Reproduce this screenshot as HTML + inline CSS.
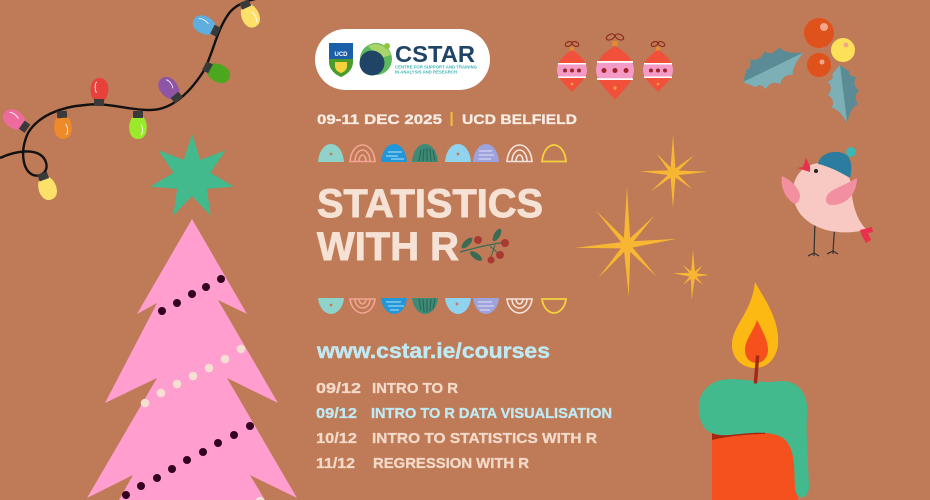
<!DOCTYPE html>
<html>
<head>
<meta charset="utf-8">
<style>
html,body{margin:0;padding:0;background:#BF7A57;}
svg{display:block;}
text{font-family:"Liberation Sans",sans-serif;font-weight:bold;}
</style>
</head>
<body>
<svg width="930" height="500" viewBox="0 0 930 500" xmlns="http://www.w3.org/2000/svg">
<defs>
  <clipPath id="oL"><path d="M572,50 C579,54 587,61 587,70 C587,79 578,85 572,92 C566,85 557,79 557,70 C557,61 565,54 572,50 Z"/></clipPath>
  <clipPath id="oM"><path d="M615,46 C624,51 634,59 634,70 C634,82 622,91 615,100 C608,91 596,82 596,70 C596,59 606,51 615,46 Z"/></clipPath>
  <clipPath id="oR"><path d="M658,50 C665,54 673,61 673,70 C673,79 664,85 658,92 C652,85 643,79 643,70 C643,61 651,54 658,50 Z"/></clipPath>
  <path id="dome" d="M0,18 C1,6 7,0 13,0 C19,0 25,6 26,18 Z"/>
  <path id="bowl" d="M0,0 H26 C25,10 19,16 13,16 C7,16 1,10 0,0 Z"/>
  <path id="leaf" d="M0,0 L9,-10 Q13,-7 16,-17 Q24,-10 32,-18 Q36,-10 47,-15 Q48,-7 66,0 Q50,7 47,15 Q38,10 32,18 Q26,10 17,16 Q15,8 9,10 Z"/>
  <path id="leafL" d="M0,0 L66,0 Q50,7 47,15 Q38,10 32,18 Q26,10 17,16 Q15,8 9,10 Z"/>
  <path id="bulb" d="M-5.5,3 C-11,10 -10,25 0,25 C10,25 11,10 5.5,3 Z"/>
</defs>
<rect width="930" height="500" fill="#BF7A57"/>

<!-- string lights -->
<path d="M0,158 C15,151 38,147 45,160 C50,170 42,178 33,175 C22,170 20,150 28,133 C38,116 60,107 85,105 C110,102 125,110 150,110 C172,110 190,92 203,72 C213,55 216,30 230,12 C237,4 248,0 260,-2" fill="none" stroke="#111" stroke-width="2.4"/>
<g transform="translate(25,127) rotate(125)"><use href="#bulb" fill="#EE6B9E"/><path d="M-3,10 C-5,14 -5,19 -3,21" stroke="#fff" stroke-width="0.8" fill="none"/><rect x="-5" y="-3" width="10" height="7" fill="#3a3a3a"/></g>
<g transform="translate(62,114) rotate(-4)"><use href="#bulb" fill="#EE8A2A"/><path d="M3,10 C5,14 5,19 3,21" stroke="#fff" stroke-width="0.8" fill="none"/><rect x="-5" y="-3" width="10" height="7" fill="#3a3a3a"/></g>
<g transform="translate(99,103) rotate(182)"><use href="#bulb" fill="#E8403A"/><path d="M3,10 C5,14 5,19 3,21" stroke="#fff" stroke-width="0.8" fill="none"/><rect x="-5" y="-3" width="10" height="7" fill="#3a3a3a"/></g>
<g transform="translate(138,114) rotate(0)"><use href="#bulb" fill="#9BE92B"/><path d="M3,10 C5,14 5,19 3,21" stroke="#fff" stroke-width="0.8" fill="none"/><rect x="-5" y="-3" width="10" height="7" fill="#3a3a3a"/></g>
<g transform="translate(177,98) rotate(141)"><use href="#bulb" fill="#8E55A6"/><path d="M-3,10 C-5,14 -5,19 -3,21" stroke="#fff" stroke-width="0.8" fill="none"/><rect x="-5" y="-3" width="10" height="7" fill="#3a3a3a"/></g>
<g transform="translate(207,67) rotate(-62)"><use href="#bulb" fill="#4BA71E"/><rect x="-5" y="-3" width="10" height="7" fill="#3a3a3a"/></g>
<g transform="translate(216,31) rotate(117)"><use href="#bulb" fill="#5EAEE0"/><path d="M-3,10 C-5,14 -5,19 -3,21" stroke="#fff" stroke-width="0.8" fill="none"/><rect x="-5" y="-3" width="10" height="7" fill="#3a3a3a"/></g>
<g transform="translate(245,4) rotate(-24)"><use href="#bulb" fill="#FCE06A"/><path d="M3,10 C5,14 5,19 3,21" stroke="#fff" stroke-width="0.8" fill="none"/><rect x="-5" y="-3" width="10" height="7" fill="#3a3a3a"/></g>
<g transform="translate(43,176) rotate(-20)"><use href="#bulb" fill="#FCE06A"/><rect x="-5" y="-3" width="10" height="7" fill="#3a3a3a"/></g>

<!-- tree -->
<polygon points="192,219 247,314 218,300 278,403 227,378 297,498 250,475 265,500 119,500 133,475 87,498 157,378 105,403 157,303 137,314" fill="#FF9ECF"/>
<g fill="#330022">
  <circle cx="162" cy="311" r="4"/><circle cx="177" cy="303" r="4"/><circle cx="192" cy="294" r="4"/><circle cx="206" cy="287" r="4"/><circle cx="221" cy="279" r="4"/>
  <circle cx="126" cy="495" r="4"/><circle cx="141" cy="486" r="4"/><circle cx="157" cy="478" r="4"/><circle cx="172" cy="469" r="4"/><circle cx="187" cy="460" r="4"/><circle cx="203" cy="452" r="4"/><circle cx="218" cy="443" r="4"/><circle cx="234" cy="435" r="4"/><circle cx="250" cy="426" r="4"/>
</g>
<g fill="#F4E0D2">
  <circle cx="145" cy="403" r="4.3"/><circle cx="161" cy="393" r="4.3"/><circle cx="177" cy="384" r="4.3"/><circle cx="193" cy="376" r="4.3"/><circle cx="209" cy="368" r="4.3"/><circle cx="225" cy="359" r="4.3"/><circle cx="241" cy="349" r="4.3"/>
  <circle cx="260" cy="501" r="4.3"/>
</g>
<polygon points="192,134 200.2,159.9 225.6,150.2 210.5,172.8 233.9,186.6 206.9,188.9 210.7,215.7 192,196 173.3,215.7 177.1,188.9 150.1,186.6 173.5,172.8 158.4,150.2 183.8,159.9" fill="#43BA8E"/>

<!-- logo pill -->
<rect x="315" y="29" width="175" height="61" rx="30.5" fill="#FFFFFF"/>
<path d="M329,43 H353 V62 C353,70 346,75 341,77 C336,75 329,70 329,62 Z" fill="#4C9A2A"/>
<rect x="329" y="43" width="24" height="16" fill="#1B5FA8"/>
<text x="341" y="56" font-size="6" fill="#fff" text-anchor="middle">UCD</text>
<path d="M335,62 H347 V66 C347,70 344,72 341,73 C338,72 335,70 335,66 Z" fill="#F4D23E"/>
<circle cx="376" cy="59" r="16" fill="#5DB85C"/>
<path d="M368,46 A16,16 0 0 1 391,55 L380,58 Z" fill="#A9D46A"/>
<circle cx="372" cy="63" r="12.5" fill="#1F4466"/>
<circle cx="387" cy="46" r="3" fill="#8CC63F"/>
<text x="395" y="62" font-size="23" fill="#1F4466" textLength="80" lengthAdjust="spacingAndGlyphs">CSTAR</text>
<text x="395" y="68.5" font-size="4.3" fill="#3FB4B8" textLength="82" lengthAdjust="spacingAndGlyphs">CENTRE FOR SUPPORT AND TRAINING</text>
<text x="395" y="73.5" font-size="4.3" fill="#3FB4B8" textLength="62" lengthAdjust="spacingAndGlyphs">IN ANALYSIS AND RESEARCH</text>

<!-- ornaments -->
<g fill="none" stroke="#8B2A1C" stroke-width="1.1">
  <ellipse cx="568.5" cy="44" rx="3.5" ry="2.2" transform="rotate(-25 568.5 44)"/><ellipse cx="575.5" cy="44" rx="3.5" ry="2.2" transform="rotate(25 575.5 44)"/>
  <ellipse cx="610.5" cy="37" rx="4.5" ry="2.6" transform="rotate(-25 610.5 37)"/><ellipse cx="619.5" cy="37" rx="4.5" ry="2.6" transform="rotate(25 619.5 37)"/>
  <ellipse cx="654.5" cy="44" rx="3.5" ry="2.2" transform="rotate(-25 654.5 44)"/><ellipse cx="661.5" cy="44" rx="3.5" ry="2.2" transform="rotate(25 661.5 44)"/>
</g>
<rect x="570" y="47" width="4" height="4" fill="#E8892B"/>
<rect x="612.5" y="41" width="5" height="5" fill="#E8892B"/>
<rect x="656" y="47" width="4" height="4" fill="#E8892B"/>
<g clip-path="url(#oL)"><rect x="550" y="45" width="45" height="50" fill="#F1513A"/><rect x="550" y="63" width="45" height="15" fill="#F39AC7"/></g>
<g clip-path="url(#oM)"><rect x="590" y="40" width="50" height="65" fill="#F1513A"/><rect x="590" y="61" width="50" height="19" fill="#F39AC7"/></g>
<g clip-path="url(#oR)"><rect x="636" y="45" width="45" height="50" fill="#F1513A"/><rect x="636" y="63" width="45" height="15" fill="#F39AC7"/></g>
<g fill="#fff">
  <rect x="558" y="63" width="28" height="1.5"/><rect x="558" y="76.5" width="28" height="1.5"/>
  <rect x="597" y="61" width="36" height="1.8"/><rect x="597" y="78.2" width="36" height="1.8"/>
  <rect x="644" y="63" width="28" height="1.5"/><rect x="644" y="76.5" width="28" height="1.5"/>
</g>
<g fill="#A3222A">
  <circle cx="565" cy="70.5" r="2"/><circle cx="572" cy="70.5" r="2"/><circle cx="579" cy="70.5" r="2"/>
  <circle cx="604" cy="70.5" r="2.5"/><circle cx="615" cy="70.5" r="2.5"/><circle cx="626" cy="70.5" r="2.5"/>
  <circle cx="651" cy="70.5" r="2"/><circle cx="658" cy="70.5" r="2"/><circle cx="665" cy="70.5" r="2"/>
</g>
<g fill="#F7A23A"><circle cx="572" cy="84" r="1.3"/><circle cx="615" cy="88" r="1.6"/><circle cx="658" cy="84" r="1.3"/></g>

<!-- date line -->
<text x="317" y="124" font-size="14" fill="#F8EDE5" stroke="#F8EDE5" stroke-width="0.3" textLength="125" lengthAdjust="spacingAndGlyphs">09-11 DEC 2025</text>
<rect x="450.5" y="112" width="2.2" height="14" fill="#F2B93B"/>
<text x="462" y="124" font-size="14" fill="#F8EDE5" stroke="#F8EDE5" stroke-width="0.3" textLength="115" lengthAdjust="spacingAndGlyphs">UCD BELFIELD</text>

<!-- domes row -->
<use href="#dome" x="318" y="144" fill="#8ED2C9"/><circle cx="331" cy="154" r="1.4" fill="#BF7A57"/>
<g transform="translate(349,144)" fill="none" stroke="#F3A493" stroke-width="1.6"><path d="M1,17.5 C2,6 8,1 13.5,1 C19,1 25,6 26,17.5 Z"/><path d="M6,17.5 C6,10 10,6 13.5,6 C17,6 21,10 21,17.5"/><path d="M10,17.5 C10,13 12,11 13.5,11 C15,11 17,13 17,17.5"/></g>
<use href="#dome" x="381" y="144" fill="#2196D9"/><g stroke="#9FD6F2" stroke-width="1.2"><line x1="388" y1="152" x2="402" y2="152"/><line x1="386" y1="156" x2="398" y2="156"/><line x1="391" y1="159" x2="404" y2="159"/></g>
<use href="#dome" x="412" y="144" fill="#3D8A77"/><g stroke="#2A6656" stroke-width="1.1"><line x1="419" y1="161" x2="421" y2="150"/><line x1="423" y1="161" x2="424" y2="149"/><line x1="427" y1="161" x2="427" y2="148"/><line x1="431" y1="161" x2="430" y2="149"/><line x1="435" y1="161" x2="433" y2="150"/></g>
<use href="#dome" x="445" y="144" fill="#8FD3EF"/><circle cx="458" cy="154" r="1.4" fill="#BF7A57"/>
<use href="#dome" x="473" y="144" fill="#9FA3DC"/><g stroke="#D6D8F4" stroke-width="1.2"><line x1="479" y1="151" x2="492" y2="151"/><line x1="479" y1="155" x2="494" y2="155"/><line x1="479" y1="159" x2="491" y2="159"/></g>
<g transform="translate(506,144)" fill="none" stroke="#F4E3DA" stroke-width="1.6"><path d="M1,17.5 C2,6 8,1 13.5,1 C19,1 25,6 26,17.5 Z"/><path d="M6,17.5 C6,10 10,6 13.5,6 C17,6 21,10 21,17.5"/><path d="M10,17.5 C10,13 12,11 13.5,11 C15,11 17,13 17,17.5"/></g>
<g transform="translate(541,144)" fill="none" stroke="#F2D23C" stroke-width="1.8"><path d="M1,17.5 C2,6 8,1 13,1 C18,1 24,6 25,17.5 Z"/></g>

<!-- title -->
<text x="317" y="217" font-size="40" fill="#F5E2D5" stroke="#F5E2D5" stroke-width="0.9" textLength="226" lengthAdjust="spacingAndGlyphs">STATISTICS</text>
<text x="317" y="260" font-size="40" fill="#F5E2D5" stroke="#F5E2D5" stroke-width="0.9" textLength="142" lengthAdjust="spacingAndGlyphs">WITH R</text>

<!-- berry sprig -->
<path d="M460,252 C475,248 490,244 507,242" fill="none" stroke="#3B6B55" stroke-width="1.3"/>
<path d="M490,246 L500,255 M495,245 L490,260" fill="none" stroke="#3B6B55" stroke-width="1"/>
<ellipse cx="467" cy="243" rx="7" ry="3" transform="rotate(-45 467 243)" fill="#3B6B55"/>
<ellipse cx="476" cy="256" rx="7" ry="3" transform="rotate(35 476 256)" fill="#3B6B55"/>
<ellipse cx="497" cy="235" rx="7" ry="3" transform="rotate(-60 497 235)" fill="#3B6B55"/>
<g fill="#A93A33"><circle cx="478" cy="240" r="4"/><circle cx="505" cy="243" r="4"/><circle cx="500" cy="255" r="4"/><circle cx="491" cy="260" r="3.5"/></g>

<!-- bowls row -->
<use href="#bowl" x="318" y="298" fill="#8ED2C9"/><circle cx="331" cy="305" r="1.4" fill="#BF7A57"/>
<g transform="translate(349,298)" fill="none" stroke="#F3A493" stroke-width="1.6"><path d="M1,1 H26 C25,10 19,15 13.5,15 C8,15 2,10 1,1 Z"/><path d="M6,1 C6,7 10,10 13.5,10 C17,10 21,7 21,1"/><path d="M10,1 C10,4 12,6 13.5,6 C15,6 17,4 17,1"/></g>
<use href="#bowl" x="381" y="298" fill="#2196D9"/><g stroke="#9FD6F2" stroke-width="1.2"><line x1="386" y1="302" x2="401" y2="302"/><line x1="388" y1="306" x2="404" y2="306"/><line x1="390" y1="310" x2="399" y2="310"/></g>
<use href="#bowl" x="412" y="298" fill="#3D8A77"/><g stroke="#2A6656" stroke-width="1.1"><line x1="419" y1="299" x2="421" y2="310"/><line x1="423" y1="299" x2="424" y2="312"/><line x1="427" y1="299" x2="427" y2="312"/><line x1="431" y1="299" x2="430" y2="311"/><line x1="435" y1="299" x2="433" y2="309"/></g>
<use href="#bowl" x="445" y="298" fill="#8FD3EF"/><circle cx="457" cy="304" r="1.4" fill="#BF7A57"/>
<use href="#bowl" x="473" y="298" fill="#9FA3DC"/><g stroke="#D6D8F4" stroke-width="1.2"><line x1="478" y1="302" x2="492" y2="302"/><line x1="478" y1="306" x2="494" y2="306"/><line x1="480" y1="310" x2="490" y2="310"/></g>
<g transform="translate(506,298)" fill="none" stroke="#F4E3DA" stroke-width="1.6"><path d="M1,1 H26 C25,10 19,15 13.5,15 C8,15 2,10 1,1 Z"/><path d="M6,1 C6,7 10,10 13.5,10 C17,10 21,7 21,1"/><path d="M10,1 C10,4 12,6 13.5,6 C15,6 17,4 17,1"/></g>
<g transform="translate(541,298)" fill="none" stroke="#F2D23C" stroke-width="1.8"><path d="M1,1 H25 C24,10 18,15 13,15 C8,15 2,10 1,1 Z"/></g>

<!-- url + courses -->
<text x="317" y="358" font-size="21" fill="#BFEAF3" stroke="#BFEAF3" stroke-width="0.4" textLength="233" lengthAdjust="spacingAndGlyphs">www.cstar.ie/courses</text>
<g font-size="14.5" stroke-width="0.3">
  <text x="316" y="393" fill="#F2D9C8" stroke="#F2D9C8" textLength="45" lengthAdjust="spacingAndGlyphs">09/12</text>
  <text x="372" y="393" fill="#F2D9C8" stroke="#F2D9C8" textLength="86" lengthAdjust="spacingAndGlyphs">INTRO TO R</text>
  <text x="316" y="418" fill="#BFEAF3" stroke="#BFEAF3" textLength="41" lengthAdjust="spacingAndGlyphs">09/12</text>
  <text x="371" y="418" fill="#BFEAF3" stroke="#BFEAF3" textLength="241" lengthAdjust="spacingAndGlyphs">INTRO TO R DATA VISUALISATION</text>
  <text x="316" y="443" fill="#F2D9C8" stroke="#F2D9C8" textLength="41" lengthAdjust="spacingAndGlyphs">10/12</text>
  <text x="372" y="443" fill="#F2D9C8" stroke="#F2D9C8" textLength="225" lengthAdjust="spacingAndGlyphs">INTRO TO STATISTICS WITH R</text>
  <text x="316" y="468" fill="#F2D9C8" stroke="#F2D9C8" textLength="39" lengthAdjust="spacingAndGlyphs">11/12</text>
  <text x="373" y="468" fill="#F2D9C8" stroke="#F2D9C8" textLength="156" lengthAdjust="spacingAndGlyphs">REGRESSION WITH R</text>
</g>

<!-- sparkles -->
<g fill="#F8B733">
  <g transform="translate(627,245)">
    <polygon points="-3.5,0 0,-58 3.5,0" /><polygon points="-3.5,0 0,-50 3.5,0" transform="rotate(83)"/><polygon points="-3.5,0 0,-52 3.5,0" transform="rotate(178)"/><polygon points="-3.5,0 0,-52 3.5,0" transform="rotate(267)"/>
    <polygon points="-2.8,0 0,-47 2.8,0" transform="rotate(318)"/><polygon points="-2.8,0 0,-41 2.8,0" transform="rotate(43)"/><polygon points="-2.8,0 0,-44 2.8,0" transform="rotate(137)"/><polygon points="-2.8,0 0,-44 2.8,0" transform="rotate(221)"/>
    <circle r="5"/>
  </g>
  <g transform="translate(673,173)">
    <polygon points="-2.8,0 0,-38 2.8,0"/><polygon points="-2.8,0 0,-35 2.8,0" transform="rotate(88)"/><polygon points="-2.8,0 0,-35 2.8,0" transform="rotate(180)"/><polygon points="-2.8,0 0,-33 2.8,0" transform="rotate(273)"/>
    <polygon points="-2.3,0 0,-26 2.3,0" transform="rotate(320)"/><polygon points="-2.3,0 0,-28 2.3,0" transform="rotate(50)"/><polygon points="-2.3,0 0,-25 2.3,0" transform="rotate(130)"/><polygon points="-2.3,0 0,-29 2.3,0" transform="rotate(230)"/>
    <circle r="4"/>
  </g>
  <g transform="translate(693,275)">
    <polygon points="-2.2,0 0,-25 2.2,0"/><polygon points="-2.2,0 0,-16 2.2,0" transform="rotate(90)"/><polygon points="-2.2,0 0,-25 2.2,0" transform="rotate(183)"/><polygon points="-2.2,0 0,-20 2.2,0" transform="rotate(275)"/>
    <polygon points="-1.8,0 0,-14 1.8,0" transform="rotate(315)"/><polygon points="-1.8,0 0,-14 1.8,0" transform="rotate(45)"/><polygon points="-1.8,0 0,-14 1.8,0" transform="rotate(135)"/><polygon points="-1.8,0 0,-14 1.8,0" transform="rotate(225)"/>
    <circle r="3"/>
  </g>
</g>

<!-- holly -->
<g transform="translate(743,82) rotate(-26) scale(1.02)"><use href="#leaf" fill="#5B8C95"/><use href="#leafL" fill="#7DB0B6"/></g>
<g transform="translate(840,65) rotate(83) scale(0.88)"><use href="#leaf" fill="#5B8C95"/><use href="#leafL" fill="#7DB0B6"/></g>
<circle cx="819" cy="33" r="15" fill="#E0521B"/><circle cx="824" cy="27" r="4" fill="#F5A58A"/>
<circle cx="843" cy="50" r="12" fill="#FDE05A"/><circle cx="846" cy="45" r="2.5" fill="#F5A58A"/>
<circle cx="819" cy="65" r="12" fill="#E0521B"/><circle cx="822" cy="62" r="2.5" fill="#F5A58A"/>

<!-- bird -->
<g stroke="#333" stroke-width="1.2" fill="none">
  <line x1="815" y1="222" x2="814" y2="253"/><line x1="814" y1="253" x2="808" y2="256"/><line x1="814" y1="253" x2="819" y2="256"/><line x1="814" y1="253" x2="814" y2="256"/>
  <line x1="835" y1="222" x2="833" y2="251"/><line x1="833" y1="251" x2="827" y2="254"/><line x1="833" y1="251" x2="838" y2="254"/><line x1="833" y1="251" x2="833" y2="254"/>
</g>
<path d="M793,192 C793,172 808,162 825,163 C842,164 850,172 851,185 C852,205 857,220 866,229 C858,233 838,234 823,229 C805,223 793,210 793,192 Z" fill="#F8C9C3"/>
<path d="M860,230 L872,227 L873,232 L868,233 L871,240 L866,243 L862,236 Z" fill="#E8324B"/>
<path d="M782,176 C790,180 797,185 800,195 C800,202 796,205 793,203 C786,198 780,188 782,176 Z" fill="#F28FA0"/>
<path d="M826,200 C826,190 840,188 857,178 C857,192 848,205 832,205 C828,205 826,203 826,200 Z" fill="#F28FA0"/>
<path d="M818,164 C820,152 838,148 848,156 C852,162 852,170 850,178 C840,172 828,166 818,164 Z" fill="#2B7C9E"/>
<circle cx="851" cy="152" r="5" fill="#3DB7B3"/>
<polygon points="810,172 797,168 803,167 806,158 810,166" fill="#E8324B"/>
<circle cx="816" cy="171" r="2" fill="#222"/>

<!-- candle -->
<rect x="712" y="420" width="86" height="80" fill="#F4511E"/>
<path d="M712,428 C725,430 745,428 765,429 L765,434 C745,434 725,437 712,440 Z" fill="#A8240F"/>
<path d="M699,410 C697,392 711,379 730,379 C748,379 762,384 780,381 C799,380 809,395 807,415 C806,435 808,460 809,485 C810,500 796,502 795,488 C794,470 796,448 783,438 C770,430 750,433 730,435 C705,437 700,425 699,410 Z" fill="#43BA8E"/>
<path d="M755,282 C765,300 780,320 778,345 C776,360 766,368 755,368 C742,368 731,358 732,343 C733,325 752,312 755,282 Z" fill="#FDB913"/>
<path d="M757,320 C762,330 768,340 768,350 C768,358 762,363 757,363 C750,363 745,358 745,350 C745,340 753,332 757,320 Z" fill="#F6511D"/>
<line x1="757.5" y1="357" x2="755.5" y2="382" stroke="#A52A15" stroke-width="3.5" stroke-linecap="round"/>
</svg>
</body>
</html>
